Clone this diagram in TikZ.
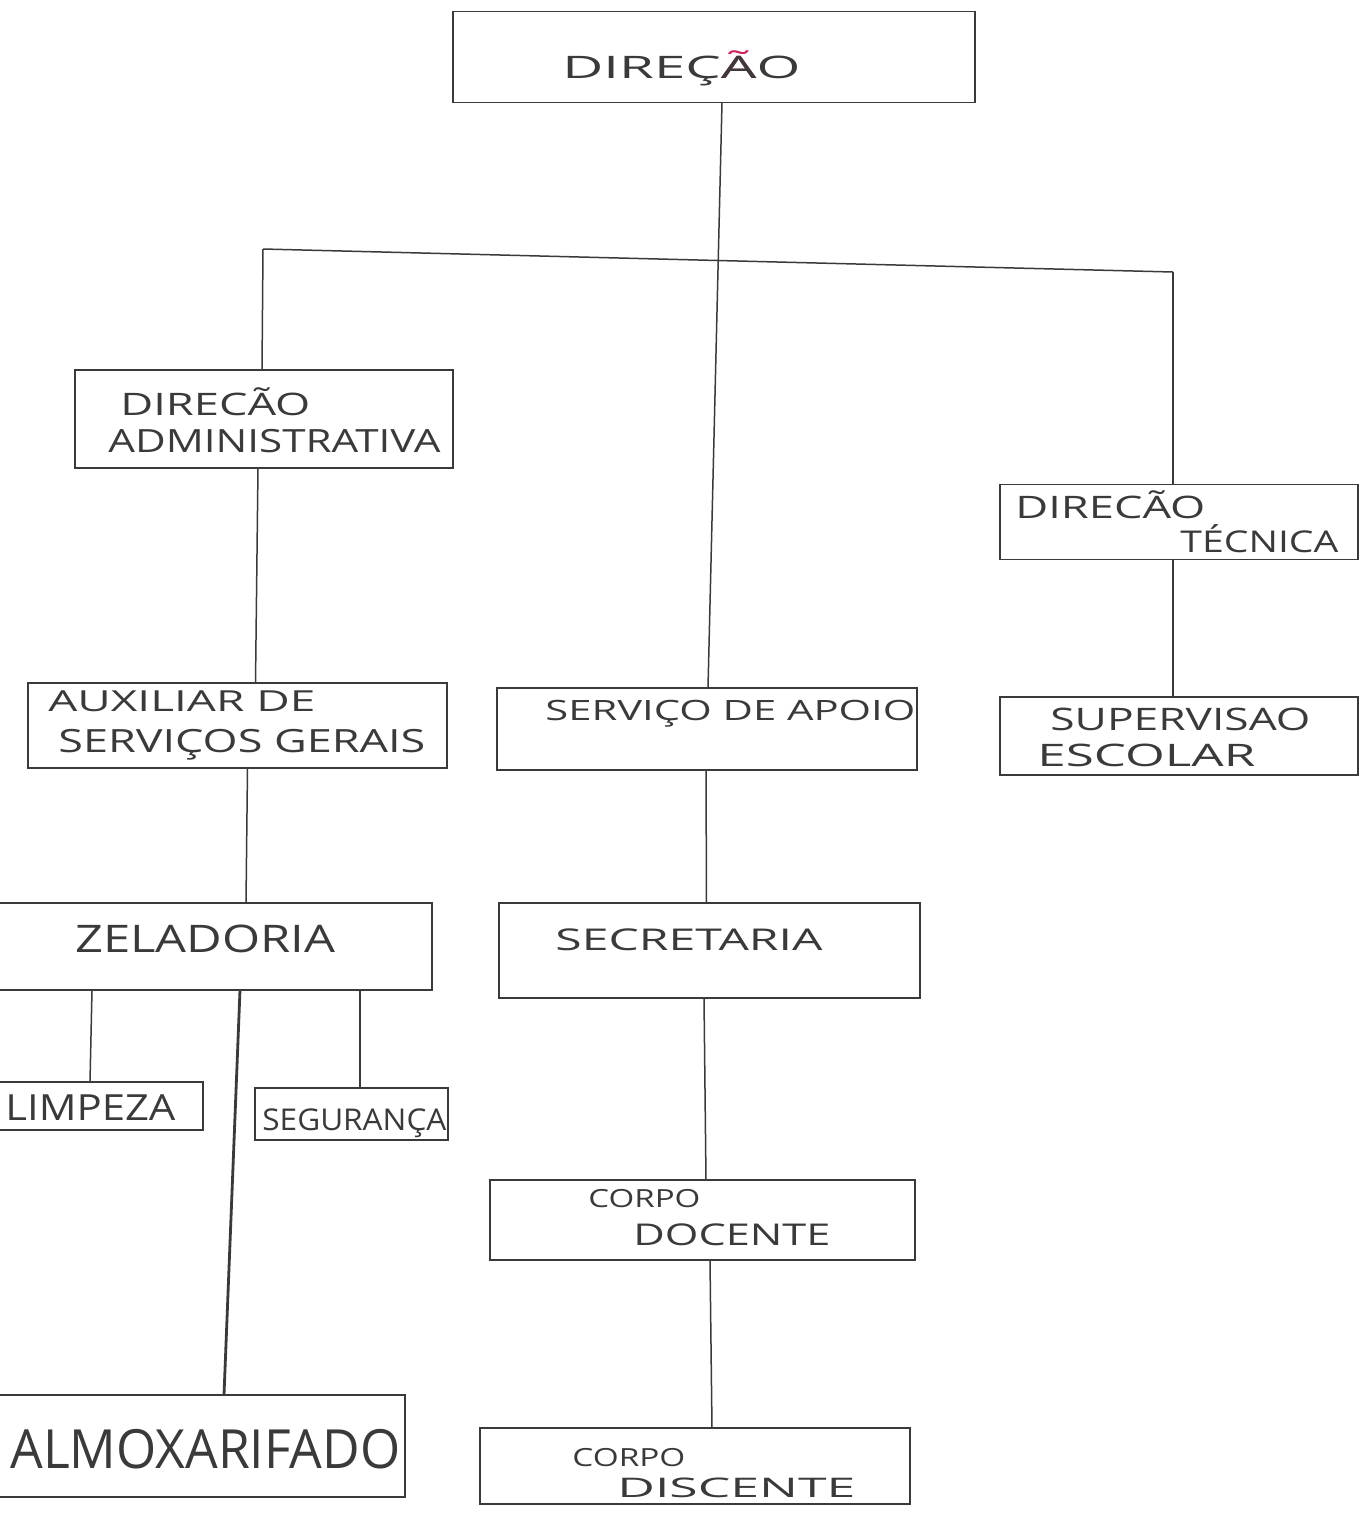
\documentclass[tikz,border=0pt]{standalone}
\usepackage{fontspec}
\setmainfont{Open Sans}
\usetikzlibrary{calc}
\definecolor{ink}{HTML}{3A3A3A}
\definecolor{redink}{HTML}{D0245A}
\newcommand\fitw[2]{\resizebox{\dimexpr #1pt/2\relax}{\height}{#2}}
\begin{document}
\begin{tikzpicture}[x=0.5pt,y=-0.5pt,
  boxst/.style={draw=ink, line width=0.75pt, inner sep=0pt, outer sep=0pt},
  bx/.style 2 args={minimum width=#1*0.5pt, minimum height=#2*0.5pt},
  txt/.style={text=ink, inner sep=0pt, anchor=base west, font=\fontsize{#1}{#1}\selectfont},
  link/.style={draw=ink, line width=0.75pt},
  thicklink/.style={draw=ink, line width=1.4pt}]
\useasboundingbox (0,0) rectangle (1360,1517);
\fill[white] (0,0) rectangle (1360,1517);

% boxes
\node[boxst, bx={522}{91}]  (dir) at (714,57) {};
\node[boxst, bx={378}{98}]  (da)  at (264,419) {};
\node[boxst, bx={358}{75}]  (dt)  at (1179,522) {};
\node[boxst, bx={419}{85}]  (aux) at (237.5,725.5) {};
\node[boxst, bx={420}{82}]  (sa)  at (707,729) {};
\node[boxst, bx={358}{78}]  (sup) at (1179,736) {};
\node[boxst, bx={440}{87}]  (zel) at (212,946.5) {};
\node[boxst, bx={421}{95}]  (sec) at (709.5,950.5) {};
\node[boxst, bx={212}{48}]  (limp) at (97,1106) {};
\node[boxst, bx={193}{52}]  (seg) at (351.5,1114) {};
\node[boxst, bx={415}{102}] (alm) at (197.5,1446) {};
\node[boxst, bx={425}{80}]  (doc) at (702.5,1220) {};
\node[boxst, bx={430}{76}]  (dis) at (695,1466) {};

% texts
\node[txt=15.5] (tdir) at (562,78) {\fitw{238}{DIREÇ\ooalign{\textcolor{redink}{Ã}\cr A\cr}O}};
\node[txt=15.5] (tda1) at (120,415) {\fitw{190}{DIRECÃO}};
\node[txt=16] (tda2) at (108,452) {\fitw{332}{ADMINISTRATIVA}};
\node[txt=15.5] (tdt1) at (1015,518) {\fitw{190}{DIRECÃO}};
\node[txt=15] (tdt2) at (1180,552) {\fitw{158}{TÉCNICA}};
\node[txt=14.5] (taux1) at (48,711) {\fitw{267}{AUXILIAR DE}};
\node[txt=16] (taux2) at (58,752) {\fitw{367}{SERVIÇOS GERAIS}};
\node[txt=14] (tsa) at (545,720) {\fitw{370}{SERVIÇO DE APOIO}};
\node[txt=15.5] (tsup1) at (1050,730) {\fitw{260}{SUPERVISAO}};
\node[txt=15.5] (tsup2) at (1037,766) {\fitw{218}{ESCOLAR}};
\node[txt=19] (tzel) at (75,952) {\fitw{260}{ZELADORIA}};
\node[txt=15] (tsec) at (555,950) {\fitw{267}{SECRETARIA}};
\node[txt=18] (tlimp) at (5,1120) {\fitw{170}{LIMPEZA}};
\node[txt=15] (tseg) at (262,1130) {\fitw{184}{SEGURANÇA}};
\node[txt=12.5] (tdoc1) at (588,1207) {\fitw{112}{CORPO}};
\node[txt=15] (tdoc2) at (633,1245) {\fitw{197}{DOCENTE}};
\node[txt=27] (talm) at (10,1468) {\fitw{390}{ALMOXARIFADO}};
\node[txt=12.5] (tdis1) at (572,1466) {\fitw{113}{CORPO}};
\node[txt=13.5] (tdis2) at (617,1497) {\fitw{238}{DISCENTE}};

% connectors
\coordinate (bl) at (263,249);
\coordinate (br) at (1173,272);
\draw[link] (bl) -- (br);
\draw[link] ($(dir.south)+(8,0)$) -- ($(sa.north)+(1,0)$);
\draw[link] (bl) -- ($(da.north)+(-2,0)$);
\draw[link] (br) -- ($(dt.north)+(-6,0)$);
\draw[link] ($(da.south)+(-6,0)$) -- ($(aux.north)+(18,0)$);
\draw[link] ($(dt.south)+(-6,0)$) -- ($(sup.north)+(-6,0)$);
\draw[link] ($(aux.south)+(10,0)$) -- ($(zel.north)+(34,0)$);
\draw[link] ($(sa.south)+(-1,0)$) -- ($(sec.north)+(-3,0)$);
\draw[link] ($(zel.south)+(-120,0)$) -- ($(limp.north)+(-7,0)$);
\draw[link] ($(zel.south)+(148,0)$) -- ($(seg.north)+(8.5,0)$);
\draw[thicklink] ($(zel.south)+(28,0)$) -- ($(alm.north)+(26.5,0)$);
\draw[link] ($(sec.south)+(-5.5,0)$) -- ($(doc.north)+(3.5,0)$);
\draw[link] ($(doc.south)+(7.5,0)$) -- ($(dis.north)+(17,0)$);
\end{tikzpicture}
\end{document}
